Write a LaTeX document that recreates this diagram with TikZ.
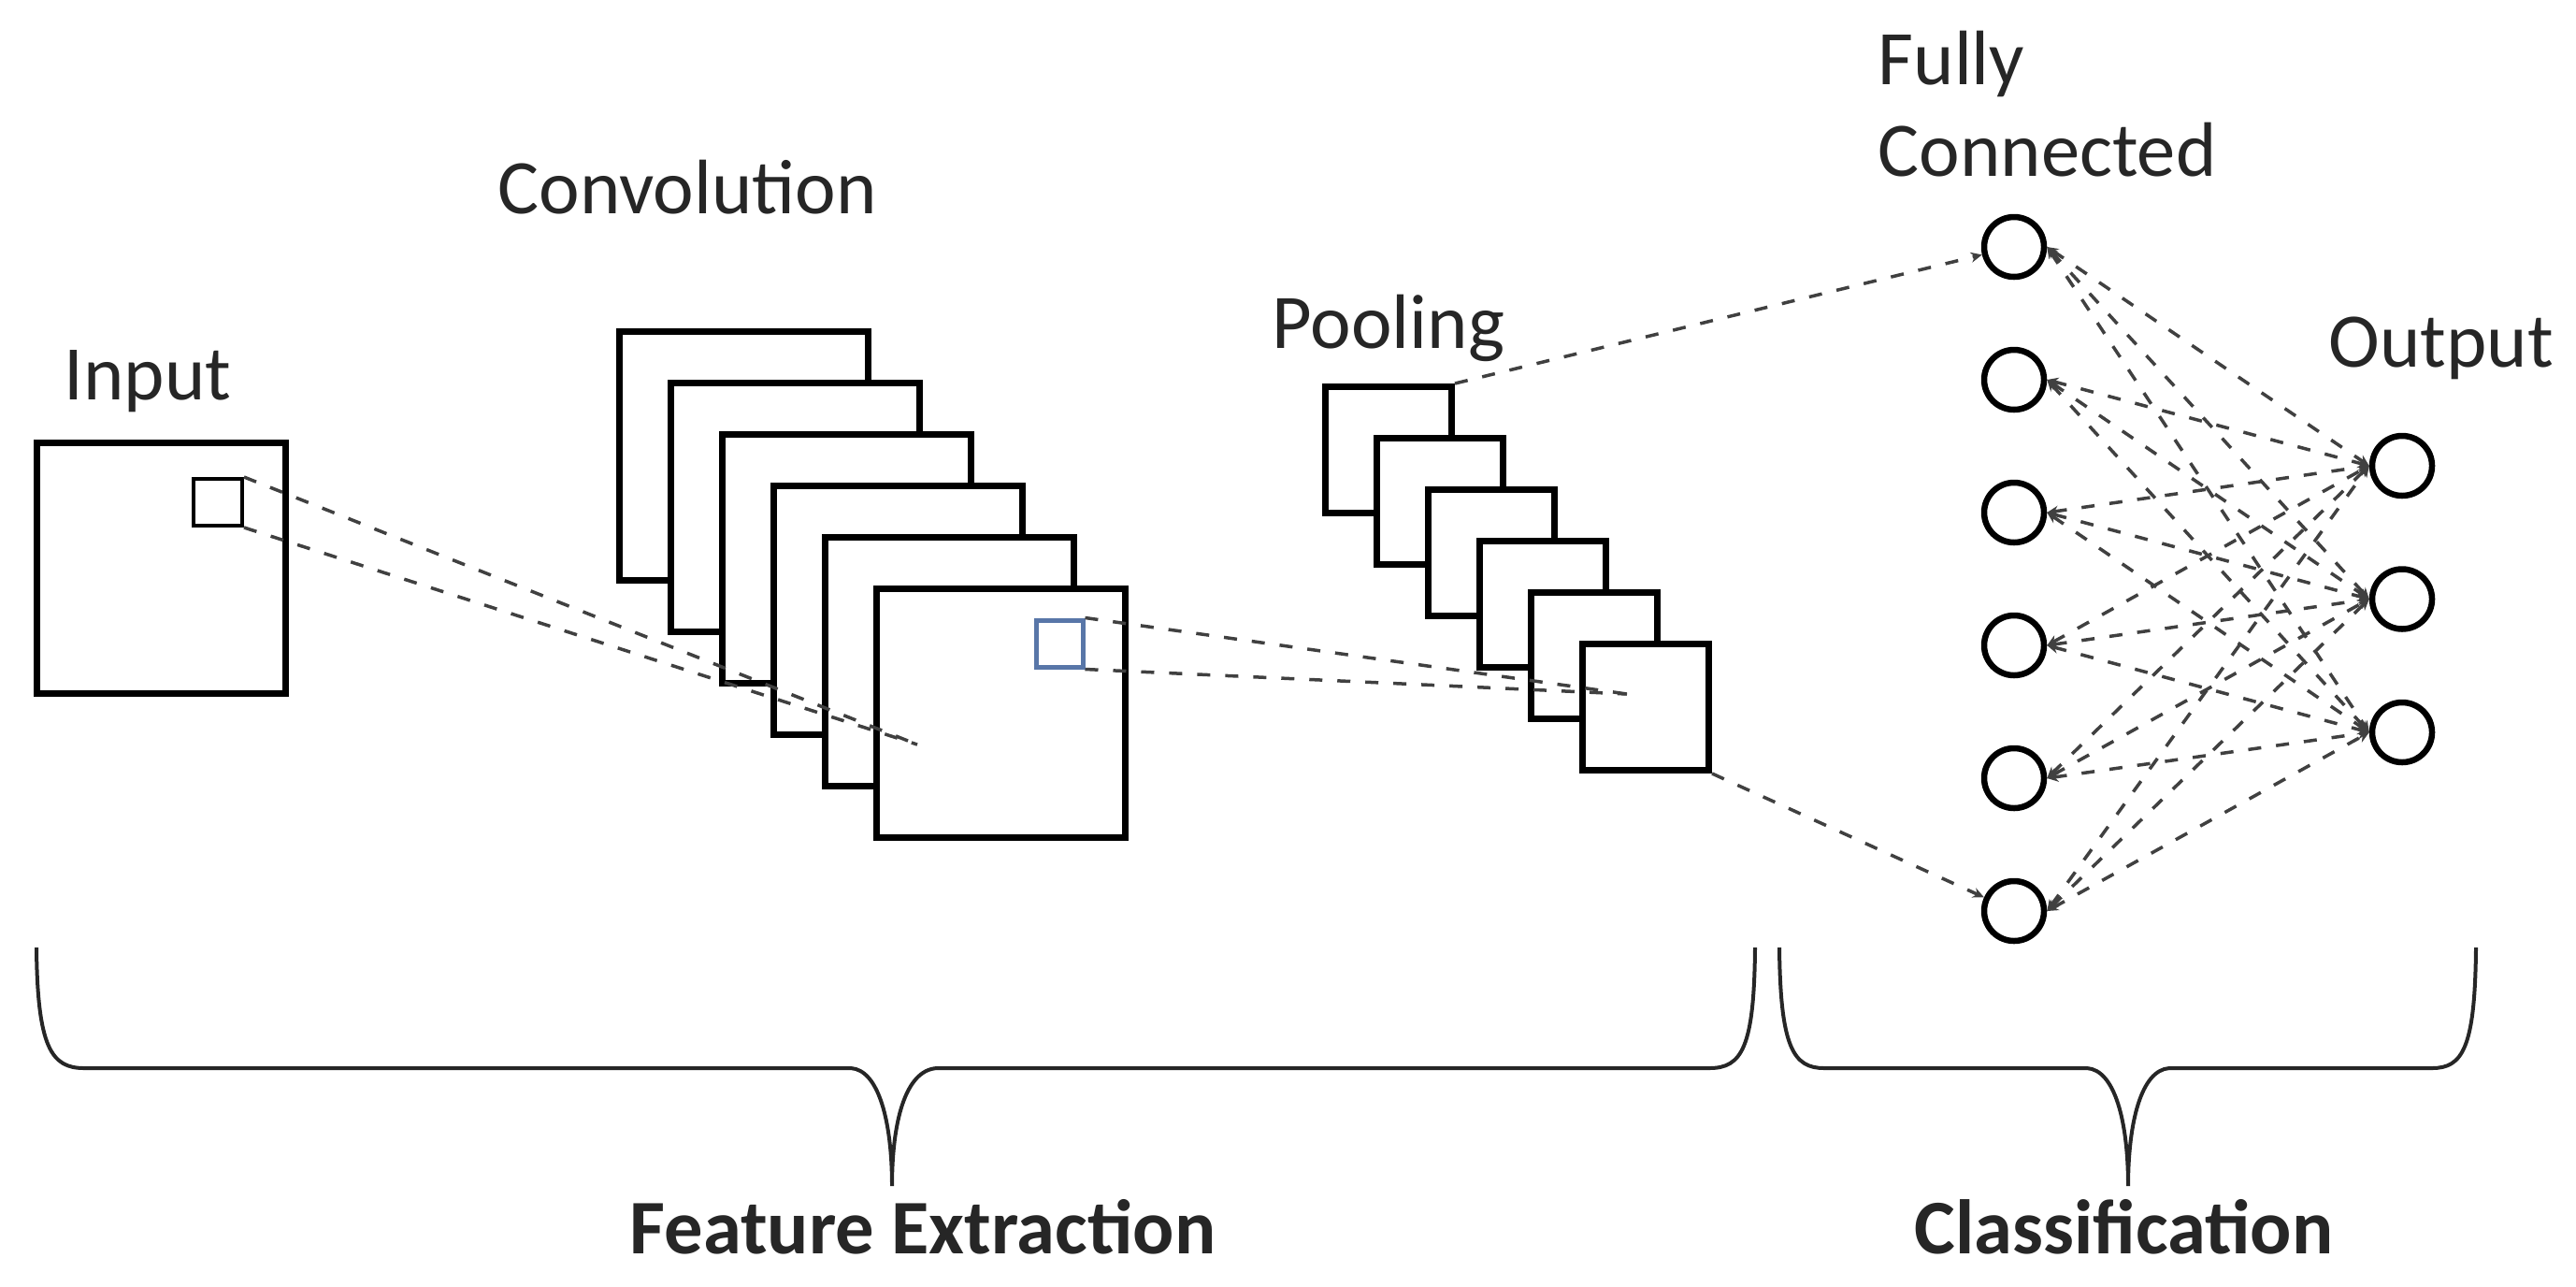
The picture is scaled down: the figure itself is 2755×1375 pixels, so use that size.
\documentclass[tikz,border=0pt]{standalone}
\usepackage{fontspec}
\setmainfont{Carlito}
\usetikzlibrary{arrows.meta}
\definecolor{kblue}{RGB}{88,118,168}
\begin{document}
\begin{tikzpicture}[x=0.1mm, y=-0.1mm,
    lbl/.style={font=\fontsize{23.5pt}{28pt}\selectfont, inner sep=0pt, text=black!85},
    fmap/.style={draw, line width=0.7mm, fill=white, minimum size=26.6mm, inner sep=0pt},
    pmap/.style={draw, line width=0.7mm, fill=white, minimum size=13.5mm, inner sep=0pt},
    neuron/.style={draw, circle, line width=0.65mm, minimum size=6.4mm, inner sep=0pt},
    link/.style={draw=black!75, line width=0.35mm, dash pattern=on 1.4mm off 1.6mm},
    dualarrow/.style={{Stealth[length=1.2mm,width=1.1mm]}-{Stealth[length=1.2mm,width=1.1mm]}},
    brace/.style={draw=black!85, line width=0.4mm}]
    \useasboundingbox (0,0) rectangle (2755,1375);
    \node[fmap, minimum height=26.8mm] (input) at (172,607) {};
    \node[draw, line width=0.4mm, minimum width=5.2mm, minimum height=5mm, inner sep=0pt] (patch) at (233,537) {};
    \foreach \i in {1,...,6} {
        \node[fmap] (conv\i) at ({795+55*(\i-1)}, {487+55*(\i-1)}) {};
    }
    \node[draw=kblue, line width=0.5mm, minimum size=5mm, inner sep=0pt] (kernel) at (1133,688) {};
    \foreach \i in {1,...,6} {
        \node[pmap] (pool\i) at ({1485+55*(\i-1)}, {481+55*(\i-1)}) {};
    }
    \foreach \i in {1,...,6} {
        \node[neuron] (fc\i) at (2154, {264+142*(\i-1)}) {};
    }
    \foreach \j in {1,2,3} {
        \node[neuron] (out\j) at (2569, {498+142.5*(\j-1)}) {};
    }
    \coordinate (convtip) at (981,796);
    \coordinate (pooltip) at (1740,742);
    \draw[link] (patch.north east) -- (convtip);
    \draw[link] (patch.south east) -- (convtip);
    \draw[link] (kernel.north east) -- (pooltip);
    \draw[link] (kernel.south east) -- (pooltip);
    \draw[link, -{Stealth[length=1.2mm,width=1.1mm]}] (pool1.north east) -- (fc1);
    \draw[link, -{Stealth[length=1.2mm,width=1.1mm]}] (pool6.south east) -- (fc6);
    \foreach \i in {1,...,6} {
        \foreach \j in {1,2,3} {
            \draw[link, dualarrow] (fc\i.east) -- (out\j.west);
        }
    }
    \draw[brace] (39,1013) .. controls (40,1120) and (55,1142) .. (90,1142) -- (910,1142)
        .. controls (940,1144) and (954,1200) .. (954,1268)
        .. controls (954,1200) and (968,1144) .. (1002,1142) -- (1828,1142)
        .. controls (1863,1142) and (1876,1120) .. (1877,1013);
    \draw[brace] (1903,1013) .. controls (1904,1120) and (1918,1142) .. (1951,1142) -- (2232,1142)
        .. controls (2262,1144) and (2276,1200) .. (2276,1268)
        .. controls (2276,1200) and (2290,1144) .. (2320,1142) -- (2601,1142)
        .. controls (2634,1142) and (2647,1120) .. (2648,1013);
    \node[lbl, anchor=base west] (inputlbl) at (68,427) {Input};
    \node[lbl, anchor=base west] (convlbl) at (532,228) {Convolution};
    \node[lbl, anchor=base west] (poollbl) at (1360,372) {Pooling};
    \node[lbl, anchor=north west, align=left] (fclbl) at (2008,32) {Fully\\Connected};
    \node[lbl, anchor=base west] (outlbl) at (2490,392) {Output};
    \node[lbl, anchor=base west] (felbl) at (673,1340) {\textbf{Feature Extraction}};
    \node[lbl, anchor=base west] (cllbl) at (2047,1340) {\textbf{Classification}};
\end{tikzpicture}
\end{document}
